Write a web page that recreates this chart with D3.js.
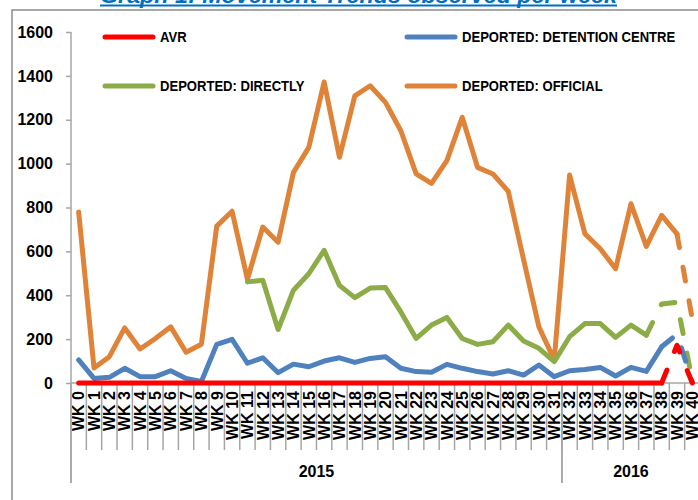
<!DOCTYPE html>
<html><head><meta charset="utf-8">
<script src="https://cdn.jsdelivr.net/npm/d3@7"></script>
<style>body{margin:0;background:#fff}svg{display:block}</style>
</head><body>
<svg id="c" width="698" height="500"></svg>
<script>
const weeks = d3.range(41).map(i => "WK " + i);
const avr = [0,0,0,0,0,0,0,0,0,0, 0,0,0,0,0,0,0,0,0,0, 0,0,0,0,0,0,0,0,0,0, 0,0,0,0,0,0,0,0,0,172, 0];
const detention = [105,21,26,67,29,29,56,21,7,176, 199,90,115,47,86,74,100,115,94,112, 120,67,52,49,85,67,52,41,56,36, 82,29,56,62,71,32,71,53,165,222, 5];
const directly = [null,null,null,null,null,null,null,null,null,null, null,461,468,244,423,498,605,445,389,433, 435,324,203,264,299,203,176,188,264,191, 158,97,211,271,271,208,264,218,360,368, 10];
const official = [780,68,120,251,155,203,256,140,177,715, 783,473,711,642,960,1074,1372,1029,1309,1355, 1279,1150,953,910,1014,1211,983,953,874,563, 256,105,948,680,612,521,817,623,764,680, 290];
const seriesNames = ["AVR","DEPORTED: DETENTION CENTRE","DEPORTED: DIRECTLY","DEPORTED: OFFICIAL"];
const seriesValues = [avr, detention, directly, official];
const seriesColors = ["#FF0000","#4F81BD","#8BAC47","#DE8338"];
const dashFrom = [38,38,37,39];
const yTicks = [0,200,400,600,800,1000,1200,1400,1600];
const years = ["2015","2016"];
const yearFirstWeek = [0,32];
const title = "Graph 1: Movement Trends observed per week";

const svg = d3.select("#c");
const FONT = "'Liberation Sans', Arial, sans-serif";
const AX = "#A6A6A6";
const x = d3.scaleBand().domain(weeks).range([71,700]).padding(0);
const y = d3.scaleLinear().domain([0,1600]).range([383,32]);
const bw = x.bandwidth();

// frame
svg.append("rect").attr("x",12).attr("y",10).attr("width",720).attr("height",520)
  .attr("fill","none").attr("stroke","#8C8C8C").attr("stroke-width",1.5);

// title (cut off at top)
svg.append("text").attr("x",100).attr("y",3).attr("textLength",517).attr("lengthAdjust","spacingAndGlyphs")
  .attr("font-family",FONT).attr("font-size",22).attr("font-weight","bold").attr("font-style","italic")
  .attr("fill","#0070C0").text(title);
svg.append("line").attr("x1",100).attr("x2",617).attr("y1",5.5).attr("y2",5.5)
  .attr("stroke","#0070C0").attr("stroke-width",2);

// y axis
const ya = svg.append("g").attr("transform","translate(71,0)")
  .call(d3.axisLeft(y).tickValues(yTicks).tickSize(5).tickPadding(13).tickFormat(d3.format("d")));
ya.select(".domain").remove();
ya.selectAll(".tick line").attr("stroke",AX).attr("stroke-width",1.5);
ya.selectAll(".tick text").attr("font-family",FONT).attr("font-size",16).attr("font-weight","bold").attr("fill","#000");
svg.append("line").attr("x1",71).attr("x2",71).attr("y1",32).attr("y2",483).attr("stroke",AX).attr("stroke-width",1.5);

// x axis
svg.append("line").attr("x1",71).attr("x2",700).attr("y1",y(0)).attr("y2",y(0)).attr("stroke",AX).attr("stroke-width",1.5);
svg.append("g").selectAll("line").data(d3.range(1, weeks.length + 1)).join("line")
  .attr("x1",i => x(weeks[0]) + i*bw).attr("x2",i => x(weeks[0]) + i*bw)
  .attr("y1",y(0)).attr("y2",450).attr("stroke",AX).attr("stroke-width",1.5);
svg.append("g").selectAll("text").data(weeks).join("text")
  .attr("transform",d => `translate(${x(d)+bw/2},391) rotate(-90)`)
  .attr("text-anchor","end").attr("dy","0.36em")
  .attr("font-family",FONT).attr("font-size",16).attr("font-weight","bold").attr("fill","#000")
  .text(d => d);

// year groups
years.forEach((yr, k) => {
  const x0 = x(weeks[yearFirstWeek[k]]);
  const x1 = k + 1 < years.length ? x(weeks[yearFirstWeek[k+1]]) : x.range()[1];
  svg.append("line").attr("x1",x0).attr("x2",x0).attr("y1",y(0)).attr("y2",483).attr("stroke",AX).attr("stroke-width",1.5);
  svg.append("line").attr("x1",x1).attr("x2",x1).attr("y1",y(0)).attr("y2",483).attr("stroke",AX).attr("stroke-width",1.5);
  svg.append("text").attr("x",(x0+x1)/2).attr("y",477).attr("text-anchor","middle")
    .attr("font-family",FONT).attr("font-size",16).attr("font-weight","bold").attr("fill","#000").text(yr);
});

// series lines (drawn last-series first so AVR sits on top)
const line = d3.line().defined(d => d.v != null).x(d => x(d.w) + bw/2).y(d => y(d.v));
const g = svg.append("g");
[3,2,1,0].forEach(s => {
  const vals = seriesValues[s];
  const solid = weeks.map((w,i) => ({w, v: i <= dashFrom[s] ? vals[i] : null}));
  const dashed = weeks.map((w,i) => ({w, v: i >= dashFrom[s] ? vals[i] : null}));
  g.append("path").attr("d",line(solid)).attr("fill","none").attr("stroke",seriesColors[s])
    .attr("stroke-width",5).attr("stroke-linejoin","round").attr("stroke-linecap","round");
  g.append("path").attr("d",line(dashed)).attr("fill","none").attr("stroke",seriesColors[s])
    .attr("stroke-width",5).attr("stroke-linejoin","round").attr("stroke-linecap","round")
    .attr("stroke-dasharray","14,20");
});

// legend
const legPos = [[103,37],[405,37],[103,86],[405,86]];
seriesNames.forEach((n,s) => {
  const [lx,ly] = legPos[s];
  svg.append("line").attr("x1",lx+2).attr("x2",lx+50).attr("y1",ly).attr("y2",ly)
    .attr("stroke",seriesColors[s]).attr("stroke-width",5).attr("stroke-linecap","round");
  const t = svg.append("text").attr("x",lx+57).attr("y",ly).attr("dy","0.36em")
    .attr("font-family",FONT).attr("font-size",15).attr("font-weight","bold").attr("fill","#000").text(n);
  const w = t.node().getComputedTextLength();
  t.attr("textLength", w*0.87).attr("lengthAdjust","spacingAndGlyphs");
});
</script>
</body></html>
